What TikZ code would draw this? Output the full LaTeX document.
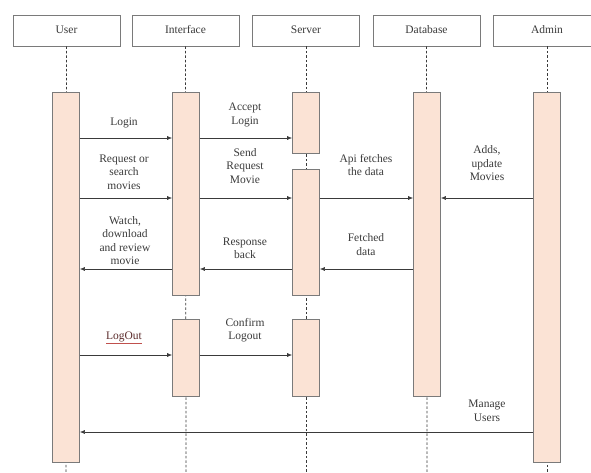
\documentclass[tikz,border=0pt]{standalone}
\usepackage{fontspec}
\setmainfont{Liberation Serif}
\usepackage{tikz}
\usetikzlibrary{arrows.meta,positioning,calc}
\definecolor{Edge}{HTML}{7A7A7A}
\definecolor{Peach}{HTML}{FBE3D5}
\definecolor{Ink}{HTML}{3A3A3A}
\definecolor{LogRed}{HTML}{C0504D}
\definecolor{LogInk}{HTML}{5A2A2A}

\begin{document}
\begin{tikzpicture}[
  x=1pt,y=-1pt,
  every node/.style={font=\fontsize{11.5}{13.5}\selectfont,text=Ink},
  headbox/.style={draw=Edge,line width=0.8pt,fill=white,minimum width=107pt,minimum height=31pt,inner sep=0pt},
  actbar/.style={draw=Edge,line width=0.7pt,fill=Peach,minimum width=27pt,inner sep=0pt},
  lbl/.style={align=center,inner sep=0pt},
  life/.style={draw=Ink,dash pattern=on 2.5pt off 2pt,line width=0.7pt},
  msg/.style={-{Latex[length=5pt,width=4pt]},color=Ink,line width=0.6pt}
]
\useasboundingbox (0,0) rectangle (591,472);
% actors
\node[headbox] (user) at (66.5,30.5) {\raisebox{2pt}{User}};
\node[headbox] (iface) at (185.5,30.5) {\raisebox{2pt}{Interface}};
\node[headbox] (server) at (306,30.5) {\raisebox{2pt}{Server}};
\node[headbox] (db) at (426.5,30.5) {\raisebox{2pt}{Database}};
\node[headbox] (admin) at (547,30.5) {\raisebox{2pt}{Admin}};
% lifeline ends
\coordinate (userend) at (66,472);
\coordinate (ifend) at (186,472);
\coordinate (srvend) at (306,472);
\coordinate (dbend) at (427,472);
\coordinate (adminend) at (547,472);
% lifelines (behind bars)
\draw[life] (user.south) -- (userend);
\draw[life] (iface.south) -- (ifend);
\draw[life] (server.south) -- (srvend);
\draw[life] (db.south) -- (dbend);
\draw[life] (admin.south) -- (adminend);
% activation bars
\node[actbar,minimum height=370pt] (userbar) at (66,277) {};
\node[actbar,minimum height=203pt] (ifbar1) at (186,193.5) {};
\node[actbar,minimum height=77pt] (ifbar2) at (186,357.5) {};
\node[actbar,minimum height=61pt] (srvbar1) at (306,122.5) {};
\node[actbar,minimum height=126pt] (srvbar2) at (306,232) {};
\node[actbar,minimum height=77pt] (srvbar3) at (306,357.5) {};
\node[actbar,minimum height=304pt] (dbbar) at (427,244) {};
\node[actbar,minimum height=370pt] (adminbar) at (547,277) {};
% message rows
\coordinate (r1) at (0,138);
\coordinate (r2) at (0,198);
\coordinate (r3) at (0,269);
\coordinate (r4) at (0,355);
\coordinate (r5) at (0,432);
% messages
\draw[msg] (userbar.east |- r1) -- (ifbar1.west |- r1);
\draw[msg] (ifbar1.east |- r1) -- (srvbar1.west |- r1);
\draw[msg] (userbar.east |- r2) -- (ifbar1.west |- r2);
\draw[msg] (ifbar1.east |- r2) -- (srvbar2.west |- r2);
\draw[msg] (srvbar2.east |- r2) -- (dbbar.west |- r2);
\draw[msg] (adminbar.west |- r2) -- (dbbar.east |- r2);
\draw[msg] (dbbar.west |- r3) -- (srvbar2.east |- r3);
\draw[msg] (srvbar2.west |- r3) -- (ifbar1.east |- r3);
\draw[msg] (ifbar1.west |- r3) -- (userbar.east |- r3);
\draw[msg] (userbar.east |- r4) -- (ifbar2.west |- r4);
\draw[msg] (ifbar2.east |- r4) -- (srvbar3.west |- r4);
\draw[msg] (adminbar.west |- r5) -- (userbar.east |- r5);
% labels
\node[lbl] (lLogin) at (124,123) {Login};
\node[lbl] (lAccept) at (245,115) {Accept\\Login};
\node[lbl] (lReq) at (124,172) {Request or\\search\\movies};
\node[lbl] (lSend) at (245,166) {Send\\Request\\Movie};
\node[lbl] (lApi) at (366,165) {Api fetches\\the data};
\node[lbl] (lAdds) at (487,163.5) {Adds,\\update\\Movies};
\node[lbl] (lWatch) at (125,240.5) {Watch,\\download\\and review\\movie};
\node[lbl] (lResp) at (245,248.5) {Response\\back};
\node[lbl] (lFetch) at (366,244.5) {Fetched\\data};
\node[lbl] (lLogout) at (124,338) {\textcolor{LogRed}{\underline{\textcolor{LogInk}{LogOut}}}};
\node[lbl] (lConfirm) at (245,330) {Confirm\\Logout};
\node[lbl] (lManage) at (487,411) {Manage\\Users};
\end{tikzpicture}
\end{document}
